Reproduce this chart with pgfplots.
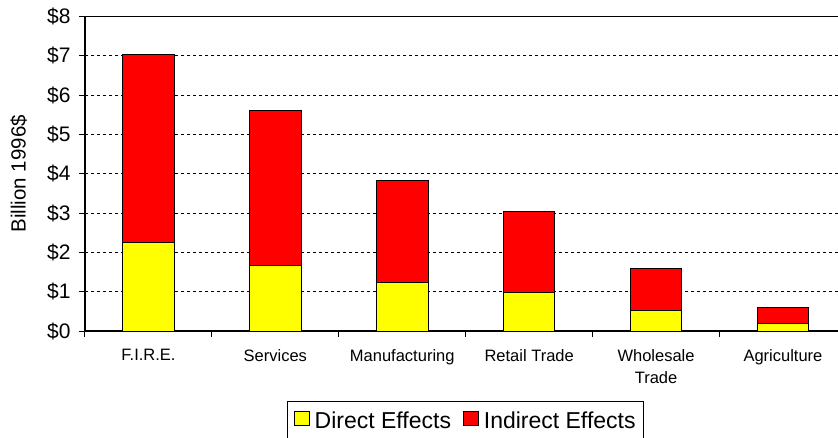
\documentclass[border=0pt]{standalone}
\usepackage{fontspec}
\setmainfont{Liberation Sans}
\usepackage{pgfplots}
\pgfplotsset{compat=1.18}
\definecolor{dyellow}{HTML}{FFFF00}
\definecolor{ired}{HTML}{FF0000}
\begin{document}
\begin{tikzpicture}[x=1pt,y=1pt]
\path[use as bounding box] (0,0) rectangle (838,437);
\begin{axis}[
  at={(85pt,106pt)}, anchor=south west,
  scale only axis, width=761.4pt, height=314.4pt,
  ybar stacked, bar width=51.6pt,
  xmin=-0.5, xmax=5.5, ymin=0, ymax=8,
  xtick={-0.5,0.5,1.5,2.5,3.5,4.5,5.5},
  x tick label as interval,
  xticklabels={F.I.R.E.,Services,Manufacturing,Retail Trade,{Wholesale\\Trade},Agriculture},
  ytick={0,1,2,3,4,5,6,7,8},
  yticklabels={\$0,\$1,\$2,\$3,\$4,\$5,\$6,\$7,\$8},
  xtick pos=bottom, ytick pos=left,
  tick align=outside, major tick length=6pt,
  tick style={black, line width=1pt},
  axis line style={black, line width=1.5pt},
  ymajorgrids,
  major grid style={black, line width=1pt, dash pattern=on 3pt off 3pt},
  yticklabel style={font=\fontsize{21}{25}\selectfont, xshift=-5pt},
  xticklabel style={font=\fontsize{16.5}{22.5}\selectfont, align=center, yshift=-9pt},
  ylabel={Billion 1996\$},
  every axis y label/.style={at={(axis description cs:-0.087,0.5)}, rotate=90, anchor=center, font=\fontsize{20.5}{24}\selectfont},
  legend columns=-1,
  legend style={at={(0.5,-0.2225)}, anchor=north, draw=black, line width=1pt, fill=white,
    font=\fontsize{23}{27}\selectfont, inner xsep=6pt, inner ysep=8pt,
    /tikz/every even column/.append style={column sep=10pt}},
  legend image code/.code={\draw[#1, draw=black, line width=0.7pt] (0pt,-4.5pt) rectangle (15pt,9.5pt); \path (18pt,0pt);},
]
\addplot[fill=dyellow, draw=black, line width=1pt] coordinates {(0,2.26) (1,1.67) (2,1.24) (3,0.98) (4,0.51) (5,0.19)};
\addplot[fill=ired, draw=black, line width=1pt] coordinates {(0,4.78) (1,3.93) (2,2.58) (3,2.07) (4,1.08) (5,0.41)};
\legend{Direct Effects, Indirect Effects}
\end{axis}
\end{tikzpicture}
\end{document}
